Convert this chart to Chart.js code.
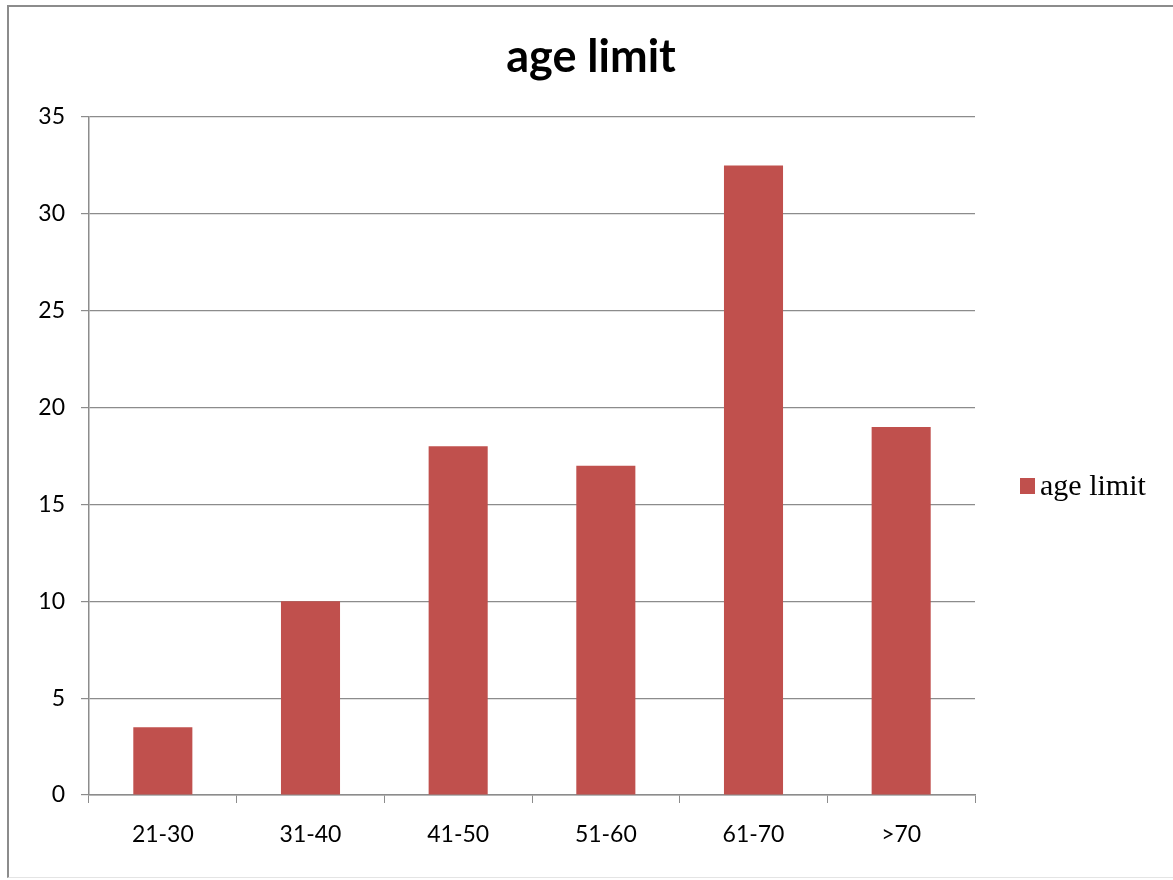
<!DOCTYPE html>
<html>
<head>
<meta charset="utf-8">
<script src="https://cdn.jsdelivr.net/npm/chart.js@4.4.1/dist/chart.umd.min.js"></script>
<style>
html,body{margin:0;padding:0;background:#fff;}
#frame{position:absolute;left:7px;top:5px;width:1166px;height:873px;border-left:2px solid #8c8c8c;border-top:2px solid #8c8c8c;border-bottom:1px solid #e4e4e4;box-sizing:border-box;}
#wrap{position:absolute;left:0;top:0;width:1173px;height:880px;}
</style>
</head>
<body>
<div id="frame"></div>
<div id="wrap"><canvas id="chart"></canvas></div>
<script>
const age_groups=['21-30','31-40','41-50','51-60','61-70','>70'];
const age_values=[3.5,10,18,17,32.5,19];
const y_ticks=[0,5,10,15,20,25,30,35];
const series_name='age limit';
const bar_color='#C0504D';
const axis_gray='#8c8c8c';

// title + legend drawn by hand, title centred on the whole picture, legend on the right
const side_legend={
    id:'side_legend',
    afterDraw(chart){
        const ctx=chart.ctx;
        ctx.save();
        ctx.fillStyle='#000';
        ctx.font='bold 45px Lato';
        ctx.textAlign='center';
        ctx.textBaseline='middle';
        ctx.fillText(series_name,591,57);
        const y=(chart.chartArea.top+chart.chartArea.bottom)/2+31;
        ctx.fillStyle=bar_color;
        ctx.fillRect(1020,y-9,15,16);
        ctx.fillStyle='#000';
        ctx.font='30px "Liberation Serif"';
        ctx.textAlign='left';
        ctx.fillText(series_name,1040,y);
        ctx.restore();
    }
};

const generator=document.querySelector('#chart').getContext('2d');
new Chart(generator,{
    type:'bar',
    data:{
        labels:age_groups,
        datasets:[{
            label:series_name,
            data:age_values,
            backgroundColor:bar_color,
            barPercentage:0.4,
            categoryPercentage:1.0
        }]
    },
    options:{
        responsive:true,
        maintainAspectRatio:false,
        animation:false,
        layout:{padding:{left:0,right:198,top:117,bottom:0}},
        plugins:{
            legend:{display:false},
            tooltip:{enabled:false},
            title:{display:false}
        },
        scales:{
            x:{
                grid:{offset:true,drawOnChartArea:false,tickLength:8,color:axis_gray},
                border:{color:axis_gray,width:1.5},
                ticks:{color:'#000',font:{family:'Lato',size:23},padding:18},
                afterFit:(s)=>{s.height=85;}
            },
            y:{
                min:0,max:35,
                afterBuildTicks:(s)=>{s.ticks=y_ticks.map(v=>({value:v}));},
                grid:{color:axis_gray,tickLength:8,lineWidth:1.2},
                border:{color:axis_gray,width:1.5},
                ticks:{color:'#000',font:{family:'Lato',size:23},padding:16},
                afterFit:(s)=>{s.width=89;}
            }
        }
    },
    plugins:[side_legend]
});
</script>
</body>
</html>
